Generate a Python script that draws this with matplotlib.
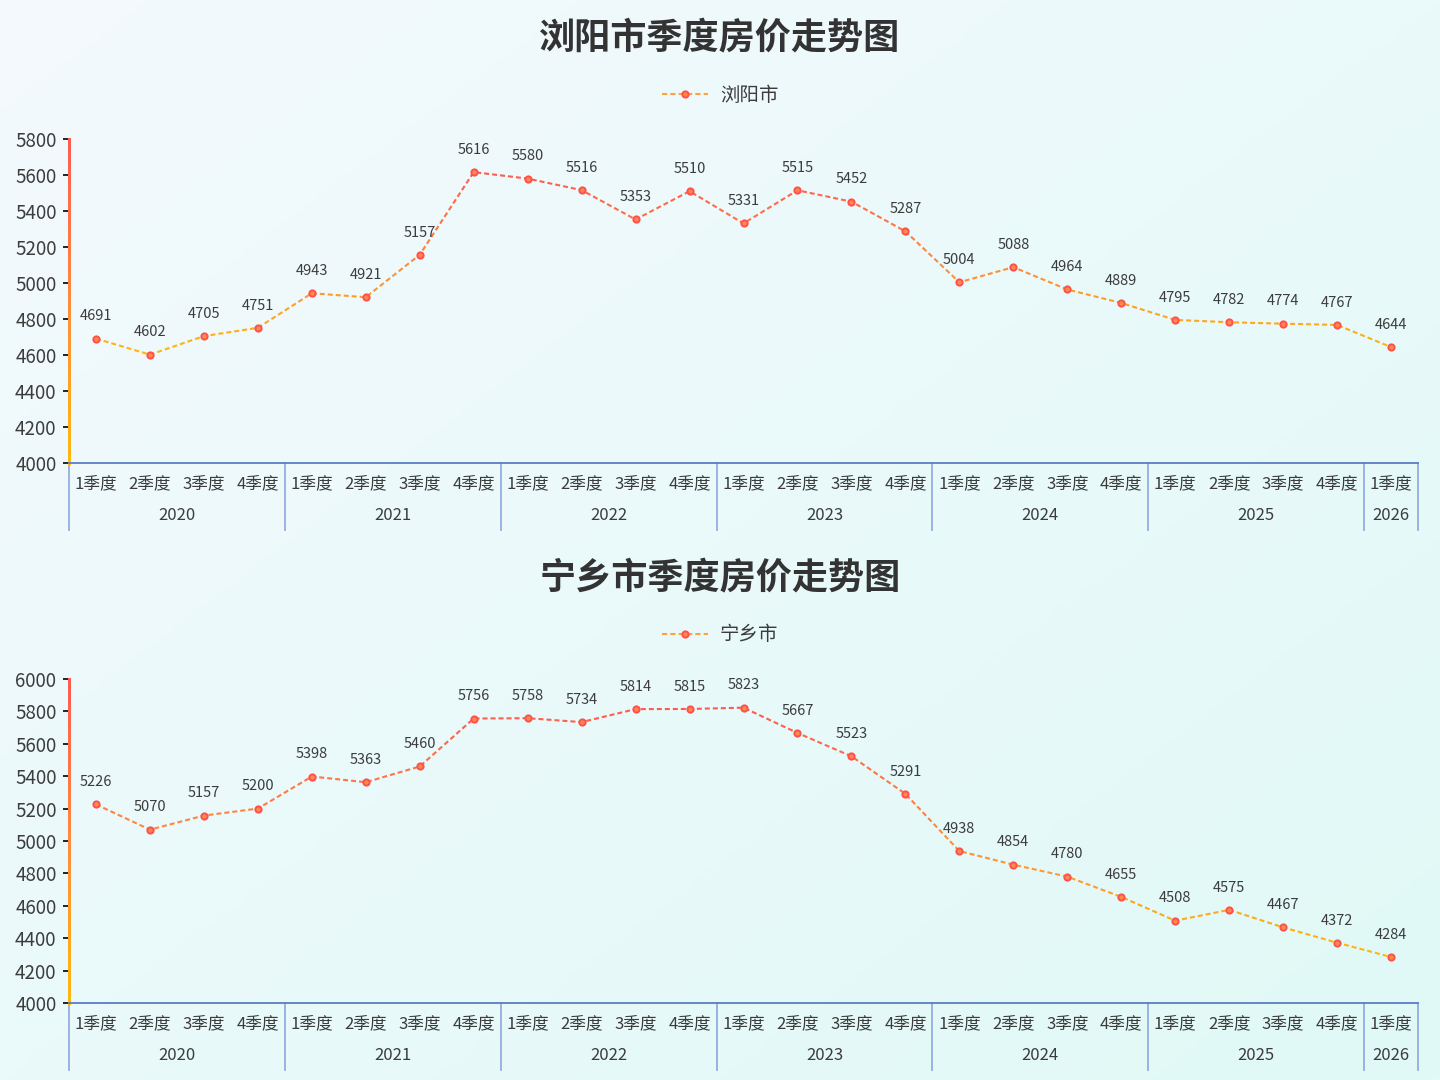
"""Quarterly house price trend for 浏阳市 and 宁乡市."""

import matplotlib
matplotlib.use("Agg")
import matplotlib.pyplot as plt
import numpy as np
from matplotlib.collections import LineCollection
from matplotlib.colors import LinearSegmentedColormap, to_rgb
from matplotlib.lines import Line2D
from matplotlib.transforms import blended_transform_factory

plt.rcParams["font.family"] = ["Noto Sans CJK SC", "DejaVu Sans"]

years = ["2020", "2021", "2022", "2023", "2024", "2025", "2026"]
quarters_per_year = [4, 4, 4, 4, 4, 4, 1]
quarter_names = ["1季度", "2季度", "3季度", "4季度"]

liuyang_prices = [4691, 4602, 4705, 4751, 4943, 4921, 5157, 5616, 5580, 5516,
                  5353, 5510, 5331, 5515, 5452, 5287, 5004, 5088, 4964, 4889,
                  4795, 4782, 4774, 4767, 4644]
ningxiang_prices = [5226, 5070, 5157, 5200, 5398, 5363, 5460, 5756, 5758, 5734,
                    5814, 5815, 5823, 5667, 5523, 5291, 4938, 4854, 4780, 4655,
                    4508, 4575, 4467, 4372, 4284]

GRAD = LinearSegmentedColormap.from_list("grad", ["#FFB80C", "#FF8A3D", "#FF5A50"])
TEXT = "#3c3c3c"
AXIS_BLUE = "#5b7cc6"
SEP_BLUE = "#93ade0"


def dashed_gradient(ax, x, y, on=5.0, off=3.0, lw=1.5):
    """Dashed polyline, every dash coloured by its height (continuous dash phase)."""
    pts = ax.transData.transform(np.column_stack([x, y]))
    inv = ax.transData.inverted()
    segs, vals = [], []
    pattern = [(on, True), (off, False)]
    k, left = 0, on
    for p0, p1 in zip(pts[:-1], pts[1:]):
        d = np.hypot(*(p1 - p0))
        pos = 0.0
        while pos < d:
            step = min(left, d - pos)
            if pattern[k][1]:
                a = p0 + (p1 - p0) * pos / d
                b = p0 + (p1 - p0) * (pos + step) / d
                da, db = inv.transform([a, b])
                segs.append([da, db])
                vals.append(0.5 * (da[1] + db[1]))
            pos += step
            left -= step
            if left <= 1e-9:
                k = 1 - k
                left = pattern[k][0]
    vals = np.array(vals)
    norm = (vals - min(y)) / (max(y) - min(y))
    lc = LineCollection(segs, colors=GRAD(norm), linewidths=lw, capstyle="butt", zorder=3)
    ax.add_collection(lc)


def draw_panel(fig, rect, title, title_y, legend_y, name, prices, ymax):
    ax = fig.add_axes(rect)
    ax.set_facecolor("none")
    n = len(prices)
    xs = np.arange(n)
    ax.set_xlim(-0.5, n - 0.5)
    ax.set_ylim(4000, ymax)
    for s in ax.spines.values():
        s.set_visible(False)

    dashed_gradient(ax, xs, prices)
    ax.plot(xs, prices, ls="none", marker="o", ms=4.5, mfc="#FF8A48",
            mec="#FF4F4F", mew=1.4, zorder=4)
    for i, v in zip(xs, prices):
        ax.annotate(str(v), (i, v), xytext=(0, 16), textcoords="offset points",
                    ha="center", va="center", fontsize=10.5, color=TEXT)

    # y axis: gradient line and coloured ticks
    yy = np.linspace(0, 1, 60)
    ysegs = [[(0, a), (0, b)] for a, b in zip(yy[:-1], yy[1:])]
    ax.add_collection(LineCollection(ysegs, colors=GRAD(yy[:-1]), linewidths=1.8,
                                     capstyle="projecting", antialiaseds=False,
                                     transform=ax.transAxes, clip_on=False, zorder=5))
    yticks = np.arange(4000, ymax + 1, 200)
    ax.set_yticks(yticks)
    ax.tick_params(axis="y", length=4, width=1.2, pad=5, labelsize=13.5, labelcolor=TEXT)
    for t, v in zip(ax.yaxis.get_major_ticks(), yticks):
        t.tick1line.set_color(GRAD((v - 4000) / (ymax - 4000)))

    # two level category axis
    ax.set_xticks([])
    ax.axhline(4000, color=AXIS_BLUE, lw=1.3, zorder=5, clip_on=False)
    trans = blended_transform_factory(ax.transData, ax.transAxes)
    h_px = rect[3] * 1080
    start = 0
    bounds = [-0.5]
    for yr, cnt in zip(years, quarters_per_year):
        for q in range(cnt):
            ax.text(start + q, -21 / h_px, quarter_names[q], transform=trans,
                    ha="center", va="center", fontsize=12, color=TEXT)
        ax.text(start + (cnt - 1) / 2, -52 / h_px, yr, transform=trans,
                ha="center", va="center", fontsize=12, color=TEXT)
        start += cnt
        bounds.append(start - 0.5)
    for b in bounds:
        ax.plot([b, b], [0, -67 / h_px], transform=trans, color=SEP_BLUE,
                lw=1.3, clip_on=False)

    fig.text(0.5, title_y, title, ha="center", va="center", fontsize=26,
             fontweight="bold", color="#333333")
    handle = Line2D([], [], color="#FFA23E", ls=(0, (2.5, 1.5)), lw=1.5, marker="o",
                    ms=4.5, mfc="#FF8A48", mec="#FF4F4F", mew=1.4)
    fig.legend([handle], [name], loc="center", bbox_to_anchor=(0.5, legend_y),
               frameon=False, fontsize=14, labelcolor=TEXT, handlelength=2.4,
               handletextpad=0.6)
    return ax


fig = plt.figure(figsize=(14.4, 10.8), dpi=100)

# soft diagonal background, light at top-left, minty at bottom-right
bg = fig.add_axes([0, 0, 1, 1], zorder=-10)
gx, gy = np.meshgrid(np.linspace(0, 1, 200), np.linspace(0, 1, 200))
t = (gx + gy) / 2
c0, c1 = np.array(to_rgb("#F4F9FE")), np.array(to_rgb("#E0FAF6"))
bg.imshow(c0 + (c1 - c0) * t[..., None], extent=[0, 1, 0, 1], aspect="auto", origin="upper")
bg.axis("off")

draw_panel(fig, [69 / 1440, 1 - 463 / 1080, 1349 / 1440, 324 / 1080],
           "浏阳市季度房价走势图", 1 - 38 / 1080, 1 - 95 / 1080,
           "浏阳市", liuyang_prices, 5800)
draw_panel(fig, [69 / 1440, 1 - 1003 / 1080, 1349 / 1440, 324 / 1080],
           "宁乡市季度房价走势图", 1 - 578 / 1080, 1 - 635 / 1080,
           "宁乡市", ningxiang_prices, 6000)

fig.savefig("out.png", dpi=100)
